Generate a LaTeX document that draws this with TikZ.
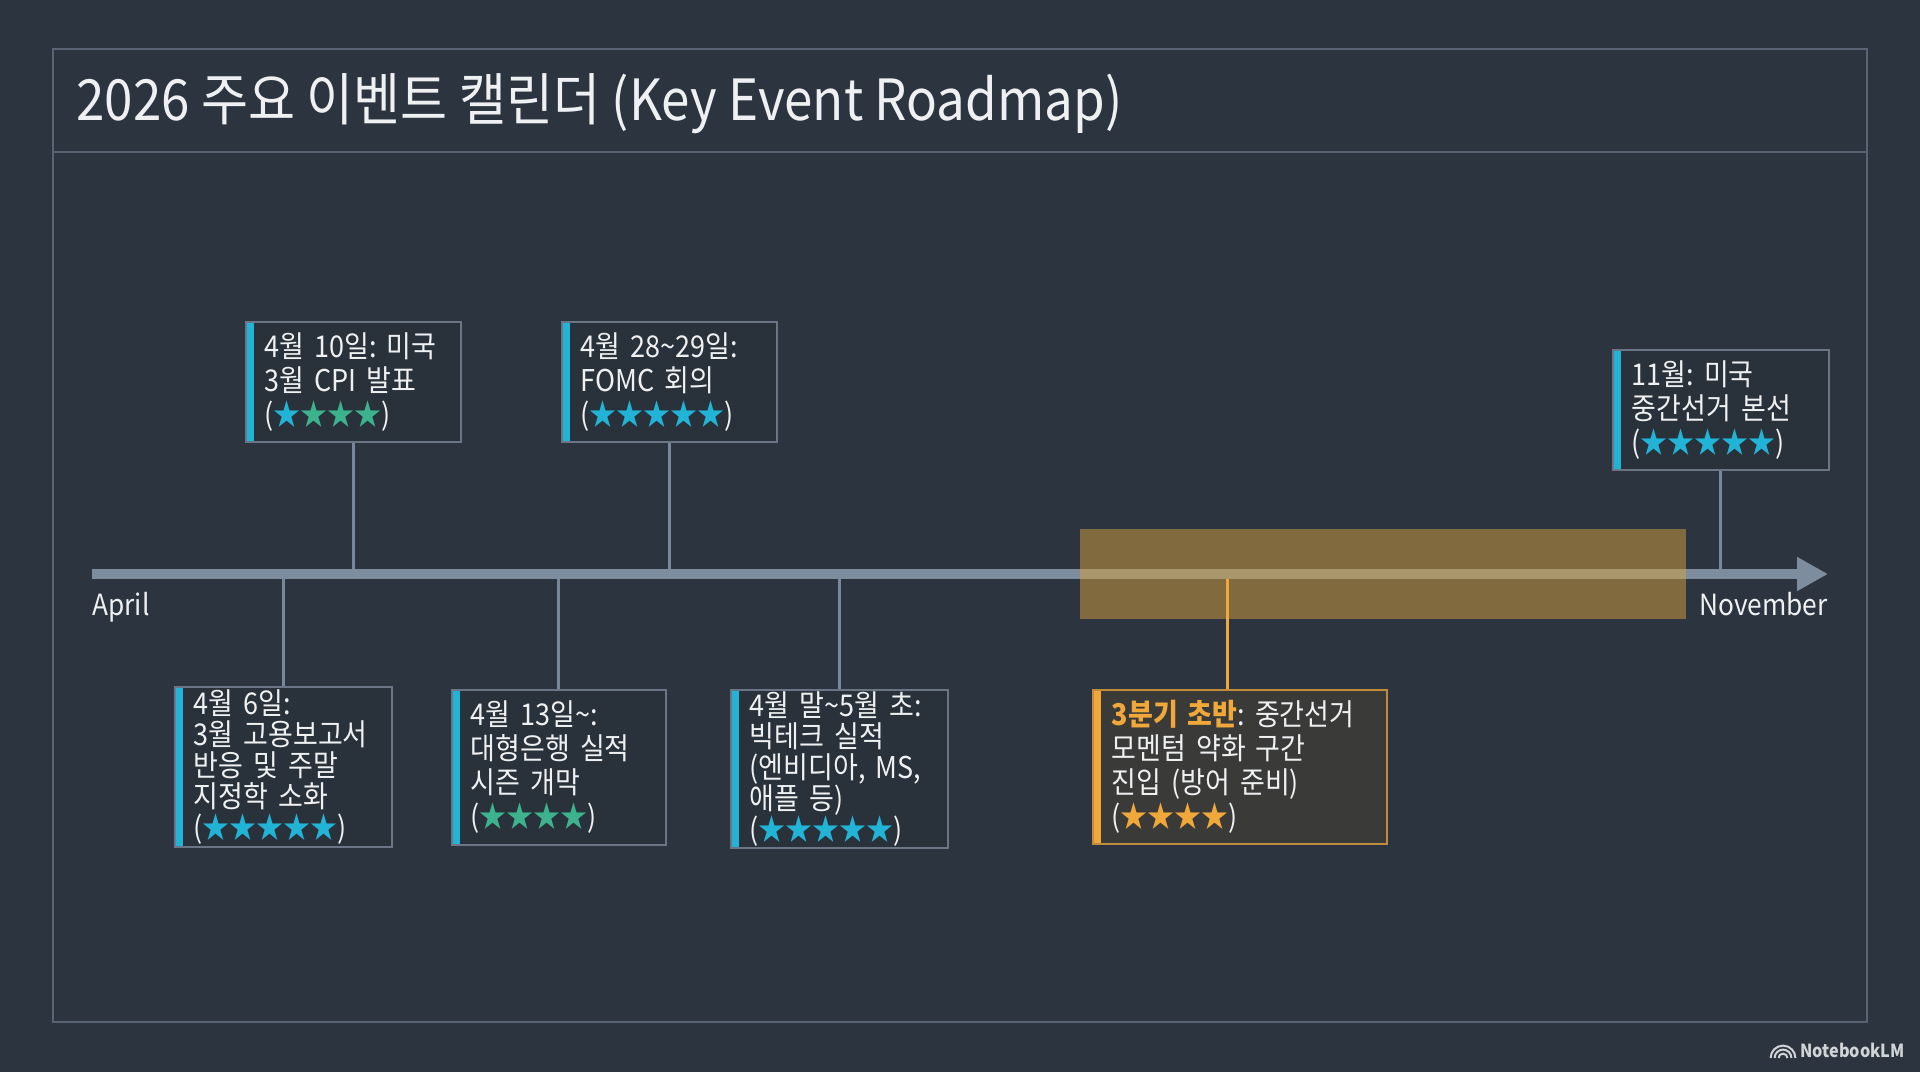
\documentclass[tikz,border=0pt]{standalone}
\usepackage{fontspec}
\setmainfont{Noto Sans CJK KR}[FakeStretch=0.9]
\usetikzlibrary{arrows.meta}
\frenchspacing

\definecolor{bgdark}{HTML}{2C3440}
\definecolor{frameline}{HTML}{586474}
\definecolor{axisgrey}{HTML}{7E8D9D}
\definecolor{stemgrey}{HTML}{78879A}
\definecolor{boxline}{HTML}{6A7685}
\definecolor{boxfill}{HTML}{29313B}
\definecolor{textwhite}{HTML}{EEF0F2}
\definecolor{cyanacc}{HTML}{22B4D6}
\definecolor{greenacc}{HTML}{3CB38C}
\definecolor{orangeacc}{HTML}{F0A83A}
\definecolor{orangeline}{HTML}{C08C3C}
\definecolor{warmfill}{HTML}{3A3A39}
\definecolor{goldband}{HTML}{D6A13C}

\tikzset{
  evbox/.style={draw=boxline, line width=0.8pt, fill=boxfill, text=textwhite,
    anchor=north west, align=left, inner xsep=9.5pt, inner ysep=0pt,
    font=\fontsize{15}{15.5}\selectfont,
    path picture={\fill[#1] (path picture bounding box.north west)
      rectangle ([xshift=4pt]path picture bounding box.south west);}},
  loose/.style={font=\fontsize{15}{17}\selectfont},
  stem/.style={draw=stemgrey, line width=1.5pt},
  axislabel/.style={text=textwhite, inner sep=0pt, font=\fontsize{14.6}{18}\selectfont},
}

\begin{document}
\begin{tikzpicture}[x=0.5pt, y=-0.5pt]
\useasboundingbox (0,0) rectangle (1920,1072);
\fill[bgdark] (0,0) rectangle (1920,1072);

% frame and title
\draw[frameline, line width=1pt] (53,49) rectangle (1867,1022);
\draw[frameline, line width=1pt] (53,152) -- (1867,152);
\node[anchor=base west, inner sep=0pt, text=textwhite, font=\fontsize{28.4}{34}\selectfont]
  (title) at (76,120) {2026 주요 이벤트 캘린더 (Key Event Roadmap)};

\coordinate (axisL) at (92,574);
\coordinate (axisR) at (1828,574);

% events above the axis
\node[evbox=cyanacc, loose, text width=88.5pt, minimum height=60pt] (cpi) at (245,321)
  {4월 10일: 미국\\3월 CPI 발표\\(\textcolor{cyanacc}{★}\textcolor{greenacc}{★★★})};
\node[evbox=cyanacc, loose, text width=88.5pt, minimum height=60pt] (fomc) at (561,321)
  {4월 28\textasciitilde 29일:\\FOMC 회의\\(\textcolor{cyanacc}{★★★★★})};
\node[evbox=cyanacc, loose, text width=89pt, minimum height=60pt] (vote) at (1612,349)
  {11월: 미국\\중간선거 본선\\(\textcolor{cyanacc}{★★★★★})};

% events below the axis
\node[evbox=cyanacc, text width=89.5pt, minimum height=80pt] (jobs) at (174,686)
  {4월 6일:\\3월 고용보고서\\반응 및 주말\\지정학 소화\\(\textcolor{cyanacc}{★★★★★})};
\node[evbox=cyanacc, loose, text width=88pt, minimum height=77.5pt] (banks) at (451,689)
  {4월 13일\textasciitilde:\\대형은행 실적\\시즌 개막\\(\textcolor{greenacc}{★★★★})};
\node[evbox=cyanacc, text width=89.5pt, minimum height=79pt] (tech) at (730,689)
  {4월 말\textasciitilde 5월 초:\\빅테크 실적\\(엔비디아, MS,\\애플 등)\\(\textcolor{cyanacc}{★★★★★})};
\node[evbox=orangeacc, loose, draw=orangeline, fill=warmfill,
  text width=128pt, minimum height=77pt] (midterm) at (1092,689)
  {\textcolor{orangeacc}{\bfseries 3분기 초반}: 중간선거\\모멘텀 약화 구간\\진입 (방어 준비)\\(\textcolor{orangeacc}{★★★★})};

% stems
\draw[stem] (cpi.south) -- (cpi.south |- axisL);
\draw[stem] (fomc.south) -- (fomc.south |- axisL);
\draw[stem] (vote.south) -- (vote.south |- axisL);
\draw[stem] (jobs.north) -- (jobs.north |- axisL);
\draw[stem] (banks.north) -- (banks.north |- axisL);
\draw[stem] (tech.north) -- (tech.north |- axisL);

% axis
\draw[axisgrey, line width=5pt, -{Triangle[length=15.5pt, width=16pt]}] (axisL) -- (axisR);
\node[axislabel, anchor=base west] (apr) at (92,615) {April};
\node[axislabel, anchor=base east] (nov) at (1828,615) {November};

% third quarter band
\fill[goldband, opacity=0.5] (1080,529) rectangle (1686,619);
\coordinate (qpt) at (1227,579);
\draw[orangeacc, line width=1.5pt] (qpt) -- (qpt |- midterm.north);

% watermark
\foreach \r in {2.2,4.2,6.2}
  \draw[textwhite!85!bgdark, line width=1pt] ([xshift=\r pt]1783,1058) arc (0:180:\r pt);
\node[anchor=base east, inner sep=0pt, text=textwhite!85!bgdark, font=\fontsize{9}{10}\selectfont\bfseries]
  (mark) at (1905,1057) {NotebookLM};
\end{tikzpicture}
\end{document}
